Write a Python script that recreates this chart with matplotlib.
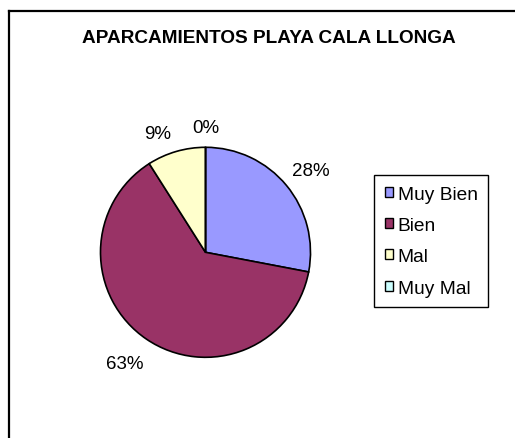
import matplotlib
matplotlib.use("Agg")
import numpy as np
import matplotlib.pyplot as plt
from matplotlib.lines import Line2D

plt.rcParams['font.family'] = ['Liberation Sans', 'DejaVu Sans']

title = "APARCAMIENTOS PLAYA CALA LLONGA"
categories = ["Muy Bien", "Bien", "Mal", "Muy Mal"]
values = [28, 63, 9, 0]
colors = ["#9999FF", "#993366", "#FFFFCC", "#CCFFFF"]

# label placement: distance from centre (radii) and angular nudge (deg, clockwise)
label_dist = [1.27, 1.31, 1.225, 1.19]
label_nudge = [1.7, 2.0, -5.8, 0.0]

W, H = 515, 439
fig = plt.figure(figsize=(W / 100, H / 100), dpi=100)
fig.patch.set_facecolor("white")

# outer chart frame (only left and top visible)
x0 = 8.5 / W
ytop = 1 - 11.5 / H
fig.add_artist(Line2D([x0, x0], [-0.05, ytop], transform=fig.transFigure, color="black", lw=1.6))
fig.add_artist(Line2D([x0, 1.05], [ytop, ytop], transform=fig.transFigure, color="black", lw=1.6))

fig.text(268.5 / W, 1 - 38.5 / H, title, ha="center", va="center",
         fontsize=13.7, fontweight="bold")

cx, cy, r = 205.5, 253.3, 105
ax = fig.add_axes([(cx - r) / W, (H - cy - r) / H, 2 * r / W, 2 * r / H])
wedges, texts, autotexts = ax.pie(
    values, colors=colors, startangle=90, counterclock=False,
    autopct=lambda p: f"{p:.0f}%", pctdistance=1.25,
    wedgeprops=dict(edgecolor="black", linewidth=1.2),
    textprops=dict(fontsize=13.5, color="black"))
for w, t, d, n in zip(wedges, autotexts, label_dist, label_nudge):
    ang = np.deg2rad((w.theta1 + w.theta2) / 2 - n)
    t.set_position((d * np.cos(ang), d * np.sin(ang)))
ax.set_xlim(-1, 1)
ax.set_ylim(-1, 1)
ax.set_aspect("equal")
ax.axis("off")

leg = fig.legend(wedges, categories, loc="upper left",
                 bbox_to_anchor=(374 / W, 1 - 176 / H),
                 fontsize=13.8, frameon=True, fancybox=False,
                 edgecolor="black", framealpha=1,
                 handlelength=0.43, handleheight=0.43, handletextpad=0.26,
                 borderpad=0.55, labelspacing=0.75, borderaxespad=0)
leg.get_frame().set_linewidth(1.0)
for h in leg.legend_handles:
    h.set_edgecolor("black")
    h.set_linewidth(1.0)

fig.savefig("out.png", dpi=100)
